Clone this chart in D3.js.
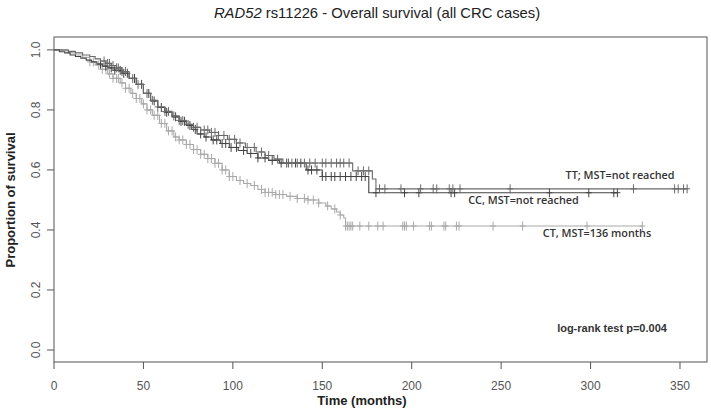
<!DOCTYPE html>
<html><head><meta charset="utf-8">
<script src="https://cdn.jsdelivr.net/npm/d3@7"></script>
<style>body{margin:0;background:#fff}svg{display:block}</style>
</head><body><svg id="c" width="711" height="416"></svg>
<script>
// ---- data ----
const xTicks = [0,50,100,150,200,250,300,350];
const yTicks = [0.0,0.2,0.4,0.6,0.8,1.0];

const ttTime = [0,8,12,16,20,23,26,29,32,35,38,42,46,50,54,58,62,66,70,74,78,82,87,92,97,102,107,113,118,123,128,167,178,180];
const ttSurv = [1,0.995,0.99,0.983,0.978,0.97,0.963,0.955,0.948,0.94,0.928,0.905,0.885,0.855,0.832,0.81,0.795,0.78,0.765,0.752,0.742,0.733,0.725,0.715,0.702,0.69,0.675,0.66,0.648,0.636,0.623,0.597,0.57,0.537];
const ttCensor = [28,30,31,33,35,36,38,40,44,47,52,55,58,62,64,67,70,72,75,78,80,84,86,88,90,92,95,98,101,104,108,112,116,120,125,130,133,136,140,143,146,150,152,155,158,160,162,165,170,173,176,182,185,194,205,212,214,221,223,227,255,324,347,349,352,354];

const ccTime = [0,3,6,9,12,15,18,21,24,27,30,34,38,42,46,50,54,58,62,66,70,74,77,80,84,88,93,98,103,108,114,120,126,141,150,176];
const ccSurv = [1,0.994,0.99,0.983,0.978,0.972,0.966,0.96,0.953,0.946,0.94,0.932,0.922,0.905,0.885,0.855,0.83,0.808,0.792,0.777,0.762,0.748,0.735,0.72,0.71,0.7,0.688,0.675,0.665,0.655,0.64,0.632,0.623,0.6,0.578,0.524];
const ccCensor = [26,29,32,34,37,39,41,45,49,53,56,60,63,68,71,73,76,79,82,85,89,91,94,96,99,102,106,110,114,118,122,127,131,135,138,142,144,147,150,152,155,157,160,163,166,169,172,174,180,196,204,222,224,277,299,313,315];

const ctTime = [0,4,8,12,16,20,23,26,30,33,37,40,43,46,49,52,55,59,63,67,70,74,78,82,86,90,94,98,102,106,110,114,118,124,130,136,142,148,152,155,158,160,162,163];
const ctSurv = [1,0.997,0.99,0.983,0.975,0.96,0.95,0.935,0.92,0.905,0.89,0.872,0.855,0.838,0.82,0.8,0.782,0.755,0.73,0.71,0.7,0.685,0.668,0.652,0.638,0.622,0.6,0.578,0.565,0.555,0.548,0.535,0.525,0.518,0.512,0.505,0.5,0.49,0.48,0.47,0.46,0.45,0.44,0.413];
const ctCensor = [20,22,25,27,29,31,33,35,36,38,40,42,44,46,48,50,52,54,56,58,60,62,64,66,68,70,72,74,76,78,80,82,84,86,88,90,92,94,96,98,100,104,108,112,116,118,120,122,124,126,128,132,136,140,142,145,148,153,157,160,163,164,165,166,167,171,176,181,184,195,196,197,201,210,211,218,219,225,226.5,245.5,262,298,329];

const groups = [
  {name:"CT", time:ctTime, surv:ctSurv, censor:ctCensor, color:"#a9a9a9"},
  {name:"CC", time:ccTime, surv:ccSurv, censor:ccCensor, color:"#444444"},
  {name:"TT", time:ttTime, surv:ttSurv, censor:ttCensor, color:"#6a6a6a"}
];
const labels = [
  {text:"TT; MST=not reached", t:316.5, s:0.57},
  {text:"CC, MST=not reached", t:262.5, s:0.487},
  {text:"CT, MST=136 months", t:303.6, s:0.377}
];

// ---- chart ----
const svg = d3.select("#c");
const x = d3.scaleLinear().domain([0,365.1]).range([54,707]);
const y = d3.scaleLinear().domain([-0.04,1.043]).range([362,37]);

svg.append("text").attr("x",377).attr("y",18).attr("text-anchor","middle")
  .style("font-family","Liberation Sans, Arial, sans-serif").style("font-size","14.8px").attr("fill","#222")
  .call(t=>{t.append("tspan").style("font-style","italic").text("RAD52");
            t.append("tspan").text(" rs11226 - Overall survival (all CRC cases)");});

function survAt(g,t){let s=1;for(let i=0;i<g.time.length;i++){if(g.time[i]<=t)s=g.surv[i];}return s;}

const line = d3.line().x(d=>x(d[0])).y(d=>y(d[1])).curve(d3.curveStepAfter);
groups.forEach(g=>{
  const last = d3.max(g.censor);
  const pts = g.time.map((t,i)=>[t,g.surv[i]]);
  pts.push([last, g.surv[g.surv.length-1]]);
  svg.append("path").attr("d",line(pts)).attr("fill","none").attr("stroke",g.color).attr("stroke-width",1.1);
  const cg = svg.append("g").attr("stroke",g.color).attr("stroke-width",1);
  g.censor.forEach(t=>{
    const cx = x(t), cy = y(survAt(g,t));
    cg.append("line").attr("x1",cx).attr("x2",cx).attr("y1",cy-4.5).attr("y2",cy+4.5);
    cg.append("line").attr("x1",cx-3).attr("x2",cx+3).attr("y1",cy).attr("y2",cy);
  });
});

// box
svg.append("rect").attr("x",54).attr("y",37).attr("width",653).attr("height",325)
  .attr("fill","none").attr("stroke","#555").attr("stroke-width",1);

const font = "Liberation Sans, Arial, sans-serif";
const xa = svg.append("g");
xTicks.forEach(v=>{
  xa.append("line").attr("x1",x(v)).attr("x2",x(v)).attr("y1",362).attr("y2",369).attr("stroke","#555");
  xa.append("text").attr("x",x(v)).attr("y",390).attr("text-anchor","middle")
    .style("font-family",font).style("font-size","12px").attr("fill","#555").text(v);
});
const ya = svg.append("g");
yTicks.forEach(v=>{
  ya.append("line").attr("x1",47).attr("x2",54).attr("y1",y(v)).attr("y2",y(v)).attr("stroke","#555");
  ya.append("text").attr("transform",`translate(40,${y(v)}) rotate(-90)`).attr("text-anchor","middle")
    .style("font-family",font).style("font-size","12px").attr("fill","#555").text(d3.format(".1f")(v));
});
svg.append("text").attr("x",362).attr("y",405).attr("text-anchor","middle")
  .style("font-family",font).style("font-size","13px").style("font-weight","bold").attr("fill","#222").text("Time (months)");
svg.append("text").attr("transform","translate(15,200) rotate(-90)").attr("text-anchor","middle")
  .style("font-family",font).style("font-size","13px").style("font-weight","bold").attr("fill","#222").text("Proportion of survival");

labels.forEach(l=>{
  svg.append("text").attr("x",x(l.t)).attr("y",y(l.s)).attr("text-anchor","middle")
    .style("font-family","Open Sans, sans-serif").style("font-size","10.8px").style("font-weight","600")
    .attr("fill","#333").text(l.text);
});
svg.append("text").attr("x",612).attr("y",332).attr("text-anchor","middle")
  .style("font-family",font).style("font-size","11px").style("font-weight","bold").attr("fill","#333").text("log-rank test p=0.004");
</script></body></html>
